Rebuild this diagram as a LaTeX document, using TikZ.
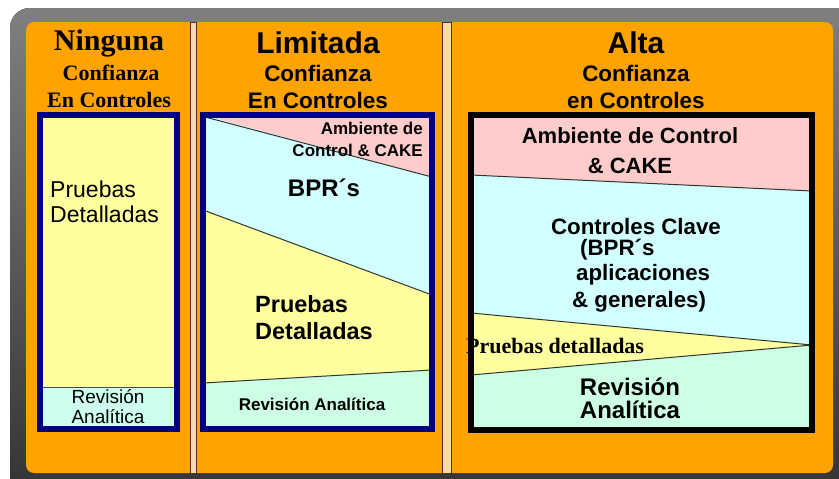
\documentclass[tikz,border=0pt]{standalone}
\usepackage{fontspec}
\setmainfont{Liberation Serif}
\setsansfont{Liberation Sans}
\usepackage{tikz}
\definecolor{naranja}{RGB}{255,163,0}
\definecolor{rosa}{RGB}{255,204,204}
\definecolor{celeste}{RGB}{210,255,255}
\definecolor{amarillo}{RGB}{255,255,160}
\definecolor{menta}{RGB}{204,255,228}
\definecolor{crema}{RGB}{245,222,160}
\definecolor{marino}{RGB}{0,0,128}

\begin{document}
\begin{tikzpicture}[x=1pt,y=-1pt,
  titserif/.style={font=\fontsize{30}{32}\selectfont\bfseries},
  subserif/.style={font=\fontsize{22}{24}\selectfont\bfseries},
  titsans/.style={font=\sffamily\fontsize{30}{32}\selectfont\bfseries},
  subsans/.style={font=\sffamily\fontsize{22.5}{24}\selectfont\bfseries},
  cuerpo/.style={font=\sffamily\bfseries, inner sep=0pt}]
  \useasboundingbox (0,0) rectangle (839,479);
  \clip (0,0) rectangle (839,479);
  \fill[rounded corners=20pt, top color=black!50, bottom color=black!80] (10,8) rectangle (860,500);
  \fill[naranja, rounded corners=8pt] (26,22) rectangle (833,473);
  \filldraw[fill=crema, draw=black!60!brown, line width=1pt] (190.5,22) rectangle (196.5,473);
  \filldraw[fill=crema, draw=black!60!brown, line width=1pt] (442.5,22) rectangle (451.5,473);
  % columna 1
  \node[titserif] (tit1) at (109,43) {Ninguna};
  \node[subserif] (conf1) at (111,73) {Confianza};
  \node[subserif] (ctrl1) at (109,100) {En Controles};
  \filldraw[fill=amarillo, draw=black!70] (40,115) rectangle (177,387);
  \filldraw[fill=menta!70!celeste, draw=black!70] (40,387) rectangle (177,429);
  \draw[marino, line width=6pt] (40,115) rectangle (177,429);
  \node[cuerpo, font=\sffamily\fontsize{23}{25}\selectfont, anchor=west, align=left] (pru1) at (50,202) {Pruebas\\Detalladas};
  \node[cuerpo, font=\sffamily\fontsize{19}{20}\selectfont, align=center] (rev1) at (108,407) {Revisión\\Analítica};
  % columna 2
  \node[titsans] (tit2) at (318,43) {Limitada};
  \node[subsans] (conf2) at (318,73) {Confianza};
  \node[subsans] (ctrl2) at (318,100) {En Controles};
  \fill[celeste] (203,115) rectangle (432,429);
  \fill[rosa] (203,115) -- (432,115) -- (432,177) -- cycle;
  \fill[amarillo] (203,210) -- (432,295) -- (432,370) -- (203,383) -- cycle;
  \fill[menta] (203,383) -- (432,370) -- (432,429) -- (203,429) -- cycle;
  \draw[black!80, line width=1pt] (205,117) -- (432,177);
  \draw[black!80, line width=1pt] (203,210) -- (432,295);
  \draw[black!80, line width=1pt] (203,383) -- (432,370);
  \node[cuerpo, font=\sffamily\fontsize{17}{22}\selectfont\bfseries, anchor=east, align=right] (amb2) at (423,139) {Ambiente de\\Control \& CAKE};
  \node[cuerpo, font=\sffamily\fontsize{24}{26}\selectfont\bfseries] (bpr2) at (324,188) {BPR´s};
  \node[cuerpo, font=\sffamily\fontsize{23.5}{27}\selectfont\bfseries, anchor=west, align=left] (pru2) at (255,318) {Pruebas\\Detalladas};
  \node[cuerpo, font=\sffamily\fontsize{17}{20}\selectfont\bfseries] (rev2) at (312,404) {Revisión Analítica};
  \draw[marino, line width=6pt] (203,115) rectangle (432,429);
  % columna 3
  \node[titsans] (tit3) at (636,43) {Alta};
  \node[subsans] (conf3) at (636,73) {Confianza};
  \node[subsans] (ctrl3) at (636,100) {en Controles};
  \fill[celeste] (471,115) rectangle (812,430);
  \fill[rosa] (471,115) -- (812,115) -- (812,191) -- (471,175) -- cycle;
  \fill[amarillo] (471,313) -- (812,345) -- (471,375) -- cycle;
  \fill[menta] (471,375) -- (812,345) -- (812,430) -- (471,430) -- cycle;
  \draw[black!80, line width=1pt] (471,175) -- (812,191);
  \draw[black!80, line width=1pt] (471,313) -- (812,345);
  \draw[black!80, line width=1pt] (471,375) -- (812,345);
  \node[cuerpo, font=\sffamily\fontsize{22}{30}\selectfont\bfseries, align=center] (amb3) at (630,151) {Ambiente de Control\\\& CAKE};
  \node[cuerpo, font=\sffamily\fontsize{22.3}{24}\selectfont\bfseries] (cla3) at (636,227) {Controles Clave};
  \node[cuerpo, font=\sffamily\fontsize{22.3}{24}\selectfont\bfseries, anchor=west] (bpr3) at (580,250) {(BPR´s};
  \node[cuerpo, font=\sffamily\fontsize{22.3}{24}\selectfont\bfseries, anchor=west] (apl3) at (576,275) {aplicaciones};
  \node[cuerpo, font=\sffamily\fontsize{22.3}{24}\selectfont\bfseries, anchor=west] (gen3) at (572,302) {\& generales)};
  \node[cuerpo, font=\fontsize{22}{24}\selectfont\bfseries, anchor=west] (pru3) at (466,346) {Pruebas detalladas};
  \node[cuerpo, font=\sffamily\fontsize{24}{23}\selectfont\bfseries, align=center] (rev3) at (630,398) {Revisión\\Analítica};
  \draw[black, line width=6pt] (471,115) rectangle (812,430);
\end{tikzpicture}
\end{document}
